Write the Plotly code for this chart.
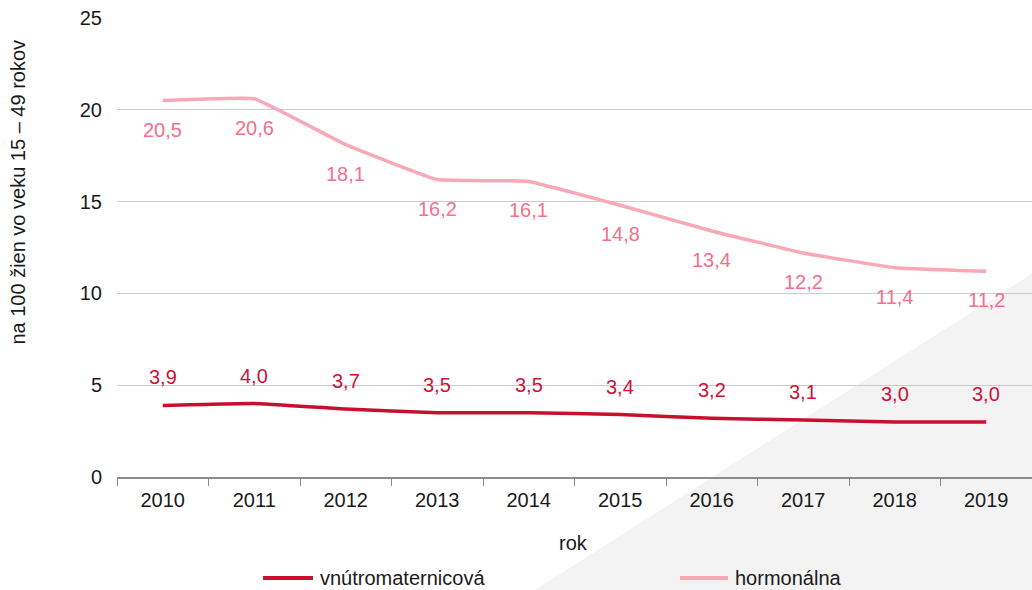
import plotly.graph_objects as go

years = ["2010", "2011", "2012", "2013", "2014", "2015", "2016", "2017", "2018", "2019"]
vnutro = [3.9, 4.0, 3.7, 3.5, 3.5, 3.4, 3.2, 3.1, 3.0, 3.0]
hormon = [20.5, 20.6, 18.1, 16.2, 16.1, 14.8, 13.4, 12.2, 11.4, 11.2]
y_ticks = [0, 5, 10, 15, 20, 25]
series_names = ["vnútromaternicová", "hormonálna"]

RED = "#c8102e"
RED_TXT = "#cc1238"
PINK = "#f9a8b6"
PINK_TXT = "#f3708a"
FONT = "Liberation Sans, Arial, sans-serif"
TXT = "#1a1a1a"
FS = 20

fig = go.Figure()
fig.add_trace(go.Scatter(x=years, y=vnutro, mode="lines", name=series_names[0],
                         line=dict(color=RED, width=3.5, shape="spline", smoothing=0.25)))
fig.add_trace(go.Scatter(x=years, y=hormon, mode="lines", name=series_names[1],
                         line=dict(color=PINK, width=3.5, shape="spline", smoothing=0.25)))

def fmt(v):
    return f"{v:.1f}".replace(".", ",")

for i, v in enumerate(vnutro):
    fig.add_annotation(x=i, y=v, text=fmt(v), showarrow=False, yshift=28,
                       font=dict(color=RED_TXT, size=FS, family=FONT))
for i, v in enumerate(hormon):
    fig.add_annotation(x=i, y=v, text=fmt(v), showarrow=False, yshift=-29,
                       font=dict(color=PINK_TXT, size=FS, family=FONT))

# axis titles
fig.add_annotation(xref="paper", yref="paper", x=0.4985, y=-0.144, text="rok",
                   xanchor="center", yanchor="middle",
                   showarrow=False, font=dict(size=FS, color=TXT, family=FONT))
fig.add_annotation(xref="paper", yref="paper", x=-0.108, y=0.62,
                   text="na 100 žien vo veku 15 – 49 rokov", textangle=-90,
                   xanchor="center", yanchor="middle",
                   showarrow=False, font=dict(size=FS, color=TXT, family=FONT))

# decorative grey triangle
fig.add_shape(type="path", xref="paper", yref="paper",
              path="M 0.4568 -0.2462 L 1.01 0.4553 L 1.01 -0.2462 Z",
              fillcolor="#f3f3f3", line=dict(width=0), layer="below")

# legend (drawn at the bottom)
leg_y = -0.22
for (x0, x1, xt), name, col in zip([(0.1596, 0.2142, 0.2197), (0.6153, 0.6678, 0.6732)],
                                   series_names, [RED, PINK]):
    fig.add_shape(type="line", xref="paper", yref="paper", x0=x0, x1=x1, y0=leg_y, y1=leg_y,
                  line=dict(color=col, width=4))
    fig.add_annotation(xref="paper", yref="paper", x=xt, y=leg_y, text=name,
                       xanchor="left", yanchor="middle", showarrow=False,
                       font=dict(size=FS, color=TXT, family=FONT))

fig.update_layout(
    width=1032, height=590,
    margin=dict(l=117, r=0, t=18, b=113),
    paper_bgcolor="white", plot_bgcolor="rgba(0,0,0,0)",
    font=dict(family=FONT, size=FS, color=TXT),
    showlegend=False,
    xaxis=dict(type="category", range=[-0.5, 9.5], showgrid=False,
               showline=True, linecolor="#8c8c8c", linewidth=1.5,
               ticks="outside", tickson="boundaries", ticklen=7, tickcolor="#8c8c8c",
               ticklabelstandoff=4, tickfont=dict(size=FS, color=TXT)),
    yaxis=dict(range=[0, 25], tickvals=y_ticks, showgrid=True, gridcolor="#cccccc",
               gridwidth=1, zeroline=False, showline=False, ticks="",
               ticklabelstandoff=14, tickfont=dict(size=FS, color=TXT)),
)

fig.write_html("out.html", config={"displayModeBar": False},
               post_script="document.body.style.margin='0';")
